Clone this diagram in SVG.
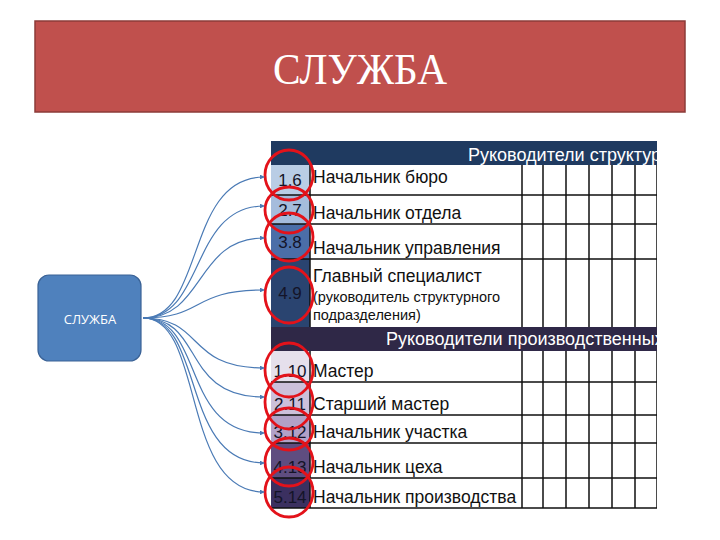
<svg xmlns="http://www.w3.org/2000/svg" width="720" height="540" viewBox="0 0 720 540">
<defs>
<style>
.t{font-family:"Liberation Sans",Arial,sans-serif;fill:#111;}
.row{font-size:17.5px;}
.num{font-size:17px;text-anchor:middle;fill:#141428;}
.hdr{font-family:"Liberation Sans",Arial,sans-serif;font-size:18px;fill:#fff;}
.ln{stroke:#111;stroke-width:1.5;fill:none;}
.circ{fill:none;stroke:#e3121a;stroke-width:2.8;}
.con{fill:none;stroke:#4a7ab5;stroke-width:1.2;}
</style>
<clipPath id="tbl"><rect x="271" y="140" width="386" height="370"/></clipPath>
<marker id="ah" viewBox="0 0 6 6" refX="5" refY="3" markerWidth="4" markerHeight="4" orient="auto"><path d="M0,0 L6,3 L0,6 z" fill="#4a7ab5"/></marker>
</defs>
<rect width="720" height="540" fill="#fff"/>

<g id="title">
<rect x="35" y="21" width="650" height="91" fill="#c0504d" stroke="#8c3b39" stroke-width="1.5"/>
<text x="273" y="84" textLength="174" lengthAdjust="spacingAndGlyphs" font-family="Liberation Serif,'DejaVu Serif',serif" font-size="45" fill="#fff">СЛУЖБА</text>
</g>

<g id="table" clip-path="url(#tbl)">
<rect x="271" y="141" width="386" height="24" fill="#1f3a60"/>
<text class="hdr" x="468" y="161">Руководители структуры</text>
<rect x="271" y="327" width="386" height="24" fill="#2f2847"/>
<text class="hdr" x="386" y="345">Руководители производственных</text>
<rect x="271" y="165" width="39" height="30" fill="#b9cde5"/>
<rect x="271" y="195" width="39" height="29" fill="#a5bcdc"/>
<rect x="271" y="224" width="39" height="35" fill="#4b6ea8"/>
<rect x="271" y="259" width="39" height="68" fill="#2a4470"/>
<rect x="271" y="351" width="39" height="31" fill="#e6e0ec"/>
<rect x="271" y="382" width="39" height="33" fill="#ccc0da"/>
<rect x="271" y="415" width="39" height="28" fill="#b2a1c7"/>
<rect x="271" y="443" width="39" height="35" fill="#5f4d80"/>
<rect x="271" y="478" width="39" height="30" fill="#3b3060"/>
<path class="ln" d="M271,195H657 M271,224H657 M271,259H657 M271,382H657 M271,415H657 M271,443H657 M271,478H657 M271,508H657"/>
<path class="ln" d="M310,165V327 M310,351V508"/>
<path class="ln" d="M522,165V327 M543,165V327 M566,165V327 M589,165V327 M612,165V327 M635,165V327 M657,165V327"/>
<path class="ln" d="M522,351V508 M543,351V508 M566,351V508 M589,351V508 M612,351V508 M635,351V508 M657,351V508"/>
</g>

<g id="rows">
<text class="t num" x="290" y="186">1.6</text>
<text class="t row" x="313" y="183">Начальник бюро</text>
<text class="t num" x="290" y="216">2.7</text>
<text class="t row" x="313" y="219">Начальник отдела</text>
<text class="t num" x="290" y="248">3.8</text>
<text class="t row" x="313" y="254">Начальник управления</text>
<text class="t num" x="290" y="299">4.9</text>
<text class="t row" x="313" y="282">Главный специалист</text>
<text class="t" x="313" y="302" font-size="14.5">(руководитель структурного</text>
<text class="t" x="313" y="320" font-size="14.5">подразделения)</text>
<text class="t num" x="290" y="377">1.10</text>
<text class="t row" x="313" y="377">Мастер</text>
<text class="t num" x="290" y="410">2.11</text>
<text class="t row" x="313" y="410">Старший мастер</text>
<text class="t num" x="290" y="438">3.12</text>
<text class="t row" x="313" y="438">Начальник участка</text>
<text class="t num" x="290" y="473">4.13</text>
<text class="t row" x="313" y="473">Начальник цеха</text>
<text class="t num" x="290" y="503">5.14</text>
<text class="t row" x="313" y="503">Начальник производства</text>
</g>

<g id="circles">
<ellipse class="circ" cx="289" cy="175" rx="24" ry="25"/>
<ellipse class="circ" cx="289" cy="210" rx="24" ry="23"/>
<ellipse class="circ" cx="289" cy="237" rx="24" ry="24"/>
<ellipse class="circ" cx="289" cy="295" rx="24" ry="28"/>
<ellipse class="circ" cx="289" cy="370" rx="24" ry="27"/>
<ellipse class="circ" cx="289" cy="402" rx="24" ry="27"/>
<ellipse class="circ" cx="289" cy="429" rx="24" ry="21"/>
<ellipse class="circ" cx="289" cy="462" rx="24" ry="24"/>
<ellipse class="circ" cx="289" cy="492" rx="24" ry="25"/>
</g>

<g id="sluzhba">
<rect x="38" y="275" width="103" height="86" rx="11" fill="#4f81bd" stroke="#3a6296" stroke-width="1.2"/>
<text x="90" y="324" text-anchor="middle" font-family="'Open Sans','Liberation Sans',sans-serif" font-size="13" fill="#fff">СЛУЖБА</text>
</g>

<g id="connectors">
<path class="con" marker-end="url(#ah)" d="M143,318 C205,318 185,177 264,177"/>
<path class="con" marker-end="url(#ah)" d="M143,318 C205,318 190,206 264,206"/>
<path class="con" marker-end="url(#ah)" d="M143,318 C205,318 195,238 264,238"/>
<path class="con" marker-end="url(#ah)" d="M143,318 C205,318 190,290 264,290"/>
<path class="con" marker-end="url(#ah)" d="M143,318 C205,318 185,368 264,368"/>
<path class="con" marker-end="url(#ah)" d="M143,318 C205,318 180,397 264,397"/>
<path class="con" marker-end="url(#ah)" d="M143,318 C205,318 180,433 264,433"/>
<path class="con" marker-end="url(#ah)" d="M143,318 C205,318 180,463 264,463"/>
<path class="con" marker-end="url(#ah)" d="M143,318 C205,318 180,492 264,492"/>
</g>
</svg>
